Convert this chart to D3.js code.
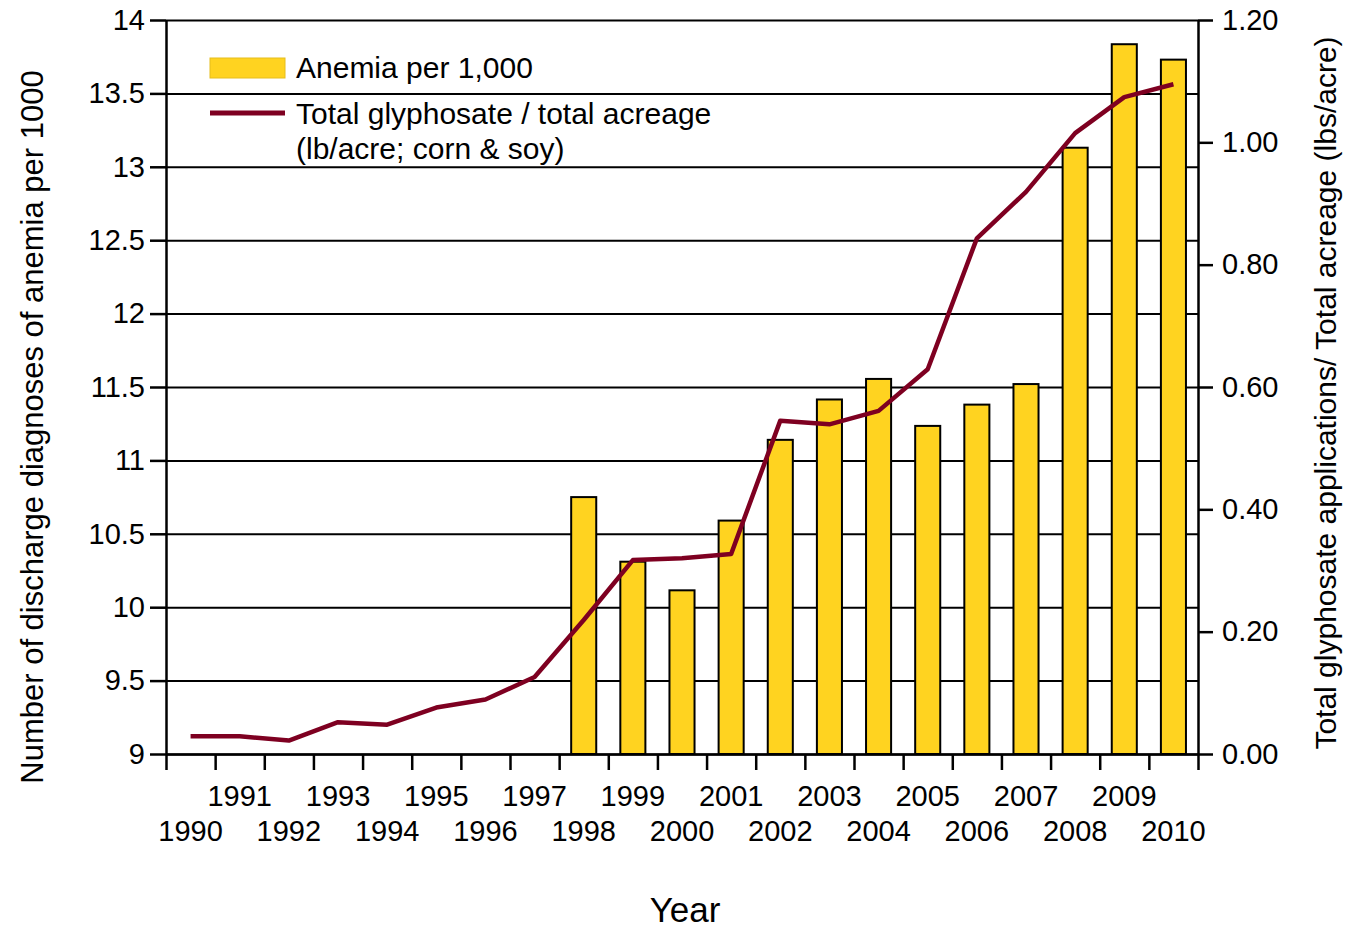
<!DOCTYPE html>
<html>
<head>
<meta charset="utf-8">
<script src="https://cdn.jsdelivr.net/npm/d3@7"></script>
<style>
  body { margin: 0; background: #fff; }
  svg text { font-family: "Liberation Sans", Arial, sans-serif; fill: #000; }
  .axis path, .axis line { stroke: #000; }
</style>
</head>
<body>
<div id="chart"></div>
<script>
// years on the x axis
const years = d3.range(1990, 2011).map(String);
// anemia discharge diagnoses per 1000 (bars start in 1998)
const anemiaYears = ["1998","1999","2000","2001","2002","2003","2004","2005","2006","2007","2008","2009","2010"];
const anemiaValues = [10.75, 10.31, 10.115, 10.59, 11.14, 11.415, 11.555, 11.235, 11.38, 11.52, 13.13, 13.835, 13.73];
// glyphosate lb/acre, one per year
const glyphValues = [0.029, 0.029, 0.022, 0.052, 0.048, 0.076, 0.089, 0.126, 0.219, 0.317, 0.320, 0.327,
                     0.545, 0.539, 0.561, 0.629, 0.843, 0.919, 1.015, 1.074, 1.095];
const leftTicks = [9, 9.5, 10, 10.5, 11, 11.5, 12, 12.5, 13, 13.5, 14];
const rightTicks = [0, 0.2, 0.4, 0.6, 0.8, 1.0, 1.2];

const W = 1348, H = 928;
const margin = {top: 20, right: 150, bottom: 174, left: 166};
const width = W - margin.left - margin.right
  , height = H - margin.top - margin.bottom;

const svg = d3.select("#chart").append("svg")
  .attr("width", W)
  .attr("height", H);

const g = svg.append("g")
  .attr("transform", "translate(" + margin.left + "," + margin.top + ")");

// scales
const x = d3.scaleBand().domain(years).range([0, width]).padding(0);
const xi = d3.scaleLinear().domain([0, years.length]).range([0, width]); // band edges for tick marks
const yL = d3.scaleLinear().domain([9, 14]).range([height, 0]);
const yR = d3.scaleLinear().domain([0, 1.2]).range([height, 0]);
const bw = x.bandwidth();

// horizontal grid lines
g.append("g")
  .attr("class", "grid")
  .call(d3.axisLeft(yL).tickValues(leftTicks).tickSize(-width).tickFormat(""))
  .call(s => s.select(".domain").remove())
  .selectAll("line")
  .attr("stroke", "#000")
  .attr("stroke-width", 2);

// bars
const bars = anemiaYears.map((yr, i) => ({year: yr, value: anemiaValues[i]}));
g.selectAll(".bar")
  .data(bars)
  .enter().append("rect")
  .attr("class", "bar")
  .attr("x", d => x(d.year) + bw * 0.245)
  .attr("width", bw * 0.51)
  .attr("y", d => yL(d.value))
  .attr("height", d => height - yL(d.value))
  .attr("fill", "#ffd320")
  .attr("stroke", "#000")
  .attr("stroke-width", 2);

// glyphosate line
const line = d3.line()
  .x((d, i) => x(years[i]) + bw / 2)
  .y(d => yR(d));

g.append("path")
  .datum(glyphValues)
  .attr("fill", "none")
  .attr("stroke", "#7e0021")
  .attr("stroke-width", 4.5)
  .attr("stroke-linejoin", "round")
  .attr("d", line);

// left axis
g.append("g")
  .attr("class", "axis")
  .call(d3.axisLeft(yL).tickValues(leftTicks).tickFormat(d3.format("~g")).tickSize(16).tickPadding(5).tickSizeOuter(0))
  .call(s => s.selectAll("text").style("font-size", "29px"))
  .call(s => s.selectAll("path, line").attr("stroke-width", 2.5));

// right axis
g.append("g")
  .attr("class", "axis")
  .attr("transform", "translate(" + width + ",0)")
  .call(d3.axisRight(yR).tickValues(rightTicks).tickFormat(d3.format(".2f")).tickSize(15).tickPadding(9).tickSizeOuter(0))
  .call(s => s.selectAll("text").style("font-size", "29px"))
  .call(s => s.selectAll("path, line").attr("stroke-width", 2.5));

// x axis tick marks at band edges
g.append("g")
  .attr("class", "axis")
  .attr("transform", "translate(0," + height + ")")
  .call(d3.axisBottom(xi).tickValues(d3.range(0, years.length + 1)).tickSize(16).tickFormat("").tickSizeOuter(0))
  .call(s => s.selectAll("path, line").attr("stroke-width", 2.5));

// x labels, staggered in two rows
g.append("g")
  .attr("class", "axis")
  .attr("transform", "translate(0," + height + ")")
  .call(d3.axisBottom(x).tickSize(0))
  .call(s => s.select(".domain").remove())
  .selectAll("text")
  .style("font-size", "29px")
  .attr("dy", 0)
  .attr("y", d => (+d % 2 === 1) ? 52 : 87);

// axis titles
svg.append("text")
  .attr("transform", "translate(43,427) rotate(-90)")
  .attr("text-anchor", "middle")
  .style("font-size", "31px")
  .text("Number of discharge diagnoses of anemia per 1000");

svg.append("text")
  .attr("transform", "translate(1336,393) rotate(-90)")
  .attr("text-anchor", "middle")
  .style("font-size", "30px")
  .text("Total glyphosate applications/ Total acreage (lbs/acre)");

svg.append("text")
  .attr("x", 685)
  .attr("y", 922)
  .attr("text-anchor", "middle")
  .style("font-size", "35px")
  .text("Year");

// legend
const legend = svg.append("g").attr("transform", "translate(210,0)");
legend.append("rect")
  .attr("x", 0).attr("y", 58)
  .attr("width", 75).attr("height", 20)
  .attr("fill", "#ffd320")
  .attr("stroke", "#e6bd1c")
  .attr("stroke-width", 1);
legend.append("text")
  .attr("x", 86).attr("y", 78)
  .style("font-size", "30px")
  .text("Anemia per 1,000");
legend.append("line")
  .attr("x1", 0).attr("x2", 75)
  .attr("y1", 113).attr("y2", 113)
  .attr("stroke", "#7e0021")
  .attr("stroke-width", 5);
legend.append("text")
  .attr("x", 86).attr("y", 124)
  .style("font-size", "30px")
  .text("Total glyphosate / total acreage");
legend.append("text")
  .attr("x", 86).attr("y", 159)
  .style("font-size", "30px")
  .text("(lb/acre; corn & soy)");
</script>
</body>
</html>
